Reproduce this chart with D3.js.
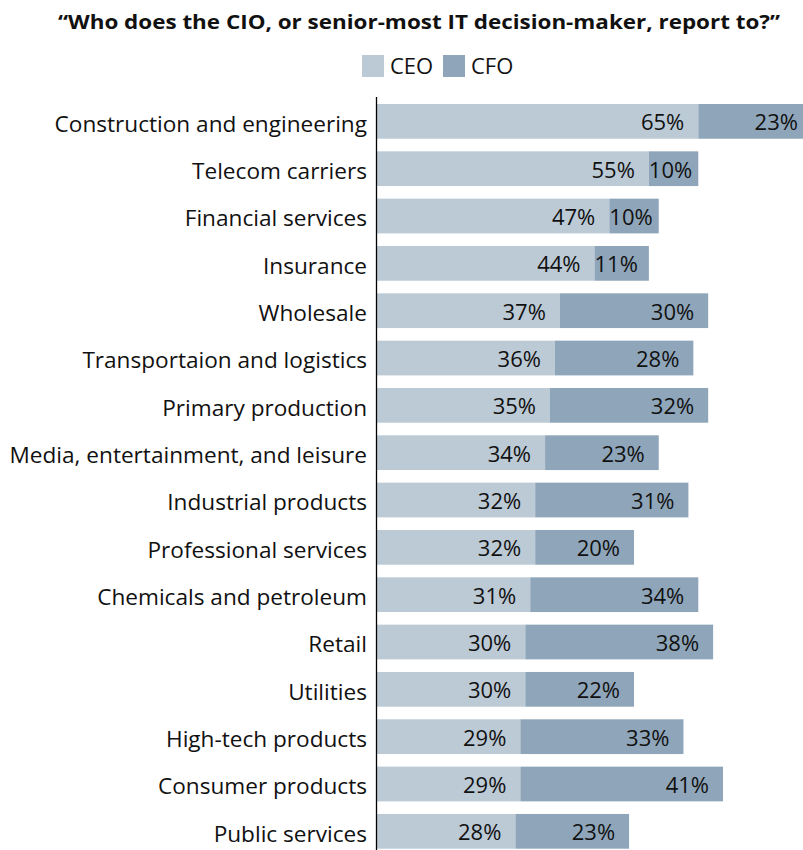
<!DOCTYPE html>
<html>
<head>
<meta charset="utf-8">
<script src="https://cdn.jsdelivr.net/npm/d3@7"></script>
<style>
  html, body { margin: 0; padding: 0; background: #fff; }
  svg { display: block; }
  text { font-family: "Open Sans", "Noto Sans", sans-serif; fill: #111; }
</style>
</head>
<body>
<script>
const title = "\u201CWho does the CIO, or senior-most IT decision-maker, report to?\u201D";
const categories = [
  "Construction and engineering", "Telecom carriers", "Financial services", "Insurance",
  "Wholesale", "Transportaion and logistics", "Primary production",
  "Media, entertainment, and leisure", "Industrial products", "Professional services",
  "Chemicals and petroleum", "Retail", "Utilities", "High-tech products",
  "Consumer products", "Public services"
];
const seriesNames = ["CEO", "CFO"];
const ceoValues = [65, 55, 47, 44, 37, 36, 35, 34, 32, 32, 31, 30, 30, 29, 29, 28];
const cfoValues = [23, 10, 10, 11, 30, 28, 32, 23, 31, 20, 34, 38, 22, 33, 41, 23];
const colors = ["#bccad6", "#8fa6ba"];

const W = 803, H = 850;
const svg = d3.select("body").append("svg").attr("width", W).attr("height", H);

const x = d3.scaleLinear().domain([0, 100]).range([377, 377 + 494.3]);
const y = d3.scaleBand().domain(categories).range([104 - 6.3, 848.7 + 6.3]).paddingInner(0.266).paddingOuter(0.133);

const rows = categories.map((c, i) => ({ cat: c, vals: [ceoValues[i], cfoValues[i]] }));
const stackData = rows.map(r => {
  let acc = 0;
  return r.vals.map((v, k) => { const s = { cat: r.cat, k, v, x0: acc, x1: acc + v }; acc += v; return s; });
}).flat();

// title
svg.append("text").attr("x", 419).attr("y", 29).attr("text-anchor", "middle")
  .style("font-weight", "700").style("font-size", "20px")
  .attr("textLength", 722).attr("lengthAdjust", "spacingAndGlyphs")
  .text(title);

// legend
const legendX = [362, 443];
seriesNames.forEach((n, k) => {
  svg.append("rect").attr("x", legendX[k]).attr("y", 55).attr("width", 22).attr("height", 22).attr("fill", colors[k]);
  svg.append("text").attr("x", legendX[k] + 28).attr("y", 66).attr("dy", "0.36em")
    .style("font-size", "22px").text(n);
});

// bars
svg.append("g").selectAll("rect").data(stackData).join("rect")
  .attr("x", d => x(d.x0)).attr("width", d => x(d.x1) - x(d.x0))
  .attr("y", d => y(d.cat)).attr("height", y.bandwidth())
  .attr("fill", d => colors[d.k]);

// value labels
const lbl = svg.append("g").selectAll("text").data(stackData).join("text")
  .attr("y", d => y(d.cat) + y.bandwidth() / 2 + 1).attr("dy", "0.36em")
  .attr("text-anchor", "end").style("font-size", "22px")
  .text(d => d.v + "%");
lbl.each(function(d) {
  const tw = this.getComputedTextLength();
  const w = x(d.x1) - x(d.x0);
  const pad = Math.max(2, Math.min(14, w - tw));
  d3.select(this).attr("x", x(d.x1) - pad);
});

// axis
const axis = d3.axisLeft(y).tickSize(0).tickPadding(9);
const ag = svg.append("g").attr("transform", "translate(376,0)").call(axis);
ag.select(".domain").attr("d", "M0.5,97V850").attr("stroke", "#000").attr("stroke-width", 1.3);
ag.selectAll(".tick text").style("font-size", "22.6px").style("font-family", "\"Open Sans\", sans-serif")
  .attr("fill", "#111").attr("dy", "0.45em");
</script>
</body>
</html>
